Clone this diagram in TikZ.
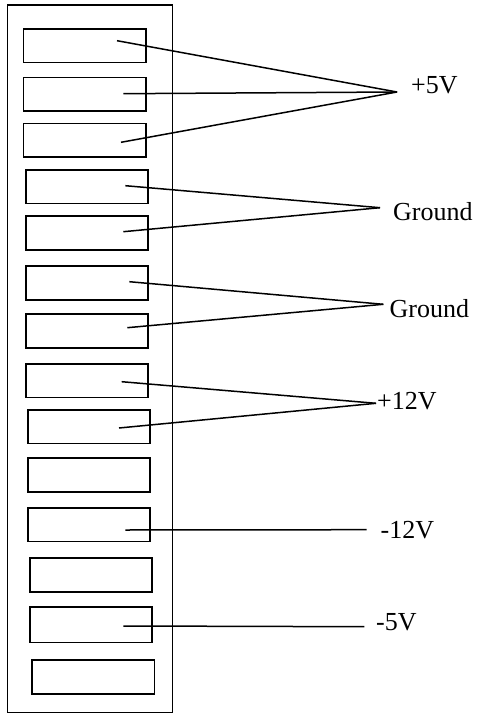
\documentclass[tikz,border=0pt]{standalone}
\usepackage{fontspec}
\setmainfont{Liberation Serif}
\begin{document}
\begin{tikzpicture}[x=1pt,y=-1pt,
  casebox/.style={draw,line width=1.3pt,inner sep=0pt,outer sep=0pt},
  slot/.style={draw,line width=1.6pt,inner sep=0pt,outer sep=0pt},
  wire/.style={line width=1.5pt},
  volt/.style={inner sep=0pt,anchor=base west,font=\fontsize{26}{30}\selectfont}]
\useasboundingbox (0,0) rectangle (480,714);
\node[casebox,minimum width=165pt,minimum height=707.3pt] (case) at (89.8,358.65) {};
\foreach \i/\xa/\ya/\xb/\yb in {
  1/23.3/29.3/146/62.7, 2/23.3/77.7/146/111, 3/23.3/123.7/146/157.3,
  4/26/170/148/203.3, 5/26/216/148/250, 6/26/265.7/148/299.7,
  7/26/314/148/347.7, 8/26/363.7/148/397.3, 9/28/410/149.7/443.3,
  10/28/458/150/491.7, 11/28/507.7/150/541.3, 12/29.7/557.7/151.7/591.7,
  13/30/607/152/642.3, 14/31.7/660/154.3/694}
  \node[slot,minimum width={(\xb-\xa)*1pt},minimum height={(\yb-\ya)*1pt}]
    (b\i) at ({(\xa+\xb)/2},{(\ya+\yb)/2}) {};
% start points inside the slots
\coordinate (s1) at (117,40.7);
\coordinate (s2) at (123.3,93.7);
\coordinate (s3) at (121,142.3);
\coordinate (s4) at (125.3,185.7);
\coordinate (s5) at (123.3,231.7);
\coordinate (s6) at (129.3,281.7);
\coordinate (s7) at (127.3,327.7);
\coordinate (s8) at (121.7,381.7);
\coordinate (s9) at (119,428);
\coordinate (s11) at (125.3,530);
\coordinate (s13) at (123.3,626);
% junctions
\coordinate (j5) at (397,92);
\coordinate (jg1) at (380,207.7);
\coordinate (jg2) at (383.3,304.3);
\coordinate (j12) at (376,403.3);
\coordinate (jm12) at (366.7,529.7);
\coordinate (jm5) at (364.3,626.7);
% labels
\node[volt] (l5) at (411,94) {+5V};
\node[volt] (lg1) at (393,220) {Ground};
\node[volt] (lg2) at (389.5,317.7) {Ground};
\node[volt] (l12) at (377,409.3) {+12V};
\node[volt] (lm12) at (380.5,538.3) {-12V};
\node[volt] (lm5) at (376,630) {-5V};
% wires
\draw[wire] (s1) -- (j5);
\draw[wire] (s2) -- (j5);
\draw[wire] (s3) -- (j5);
\draw[wire] (s4) -- (jg1);
\draw[wire] (s5) -- (jg1);
\draw[wire] (s6) -- (jg2);
\draw[wire] (s7) -- (jg2);
\draw[wire] (s8) -- (j12);
\draw[wire] (s9) -- (j12);
\draw[wire] (s11) -- (jm12);
\draw[wire] (s13) -- (jm5);
\end{tikzpicture}
\end{document}
